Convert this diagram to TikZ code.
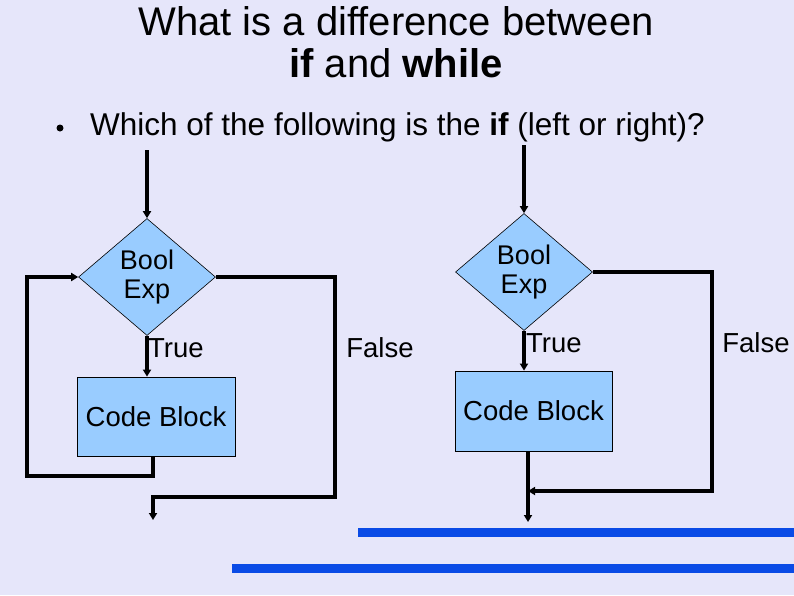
\documentclass[tikz,border=0pt]{standalone}
\usepackage{fontspec}
\setmainfont{Liberation Sans}
\usetikzlibrary{shapes.geometric,arrows.meta}
\definecolor{bg}{HTML}{E6E6FA}
\definecolor{boxfill}{HTML}{99CCFF}
\definecolor{barblue}{HTML}{0A4BE6}
\begin{document}
\begin{tikzpicture}[x=1pt,y=-1pt,
  flow/.style={line width=3.2pt,-{Triangle[length=7pt,width=8pt]}},
  decision/.style={diamond,draw=black,line width=0.6pt,fill=boxfill,minimum width=137pt,minimum height=117pt,inner sep=0pt,align=center,font=\fontsize{27}{29}\selectfont},
  block/.style={rectangle,draw=black,line width=0.8pt,fill=boxfill,inner sep=0pt,font=\fontsize{27.5}{30}\selectfont},
  lbl/.style={font=\fontsize{27.5}{30}\selectfont,inner sep=0pt}]
\fill[bg] (0,0) rectangle (794,595);
\useasboundingbox (0,0) rectangle (794,595);
\node[font=\fontsize{40}{42}\selectfont,align=center] (title) at (396,42) {What is a difference between\\\textbf{if} and \textbf{while}};
\node[circle,fill=black,inner sep=0pt,minimum size=7pt] (bul) at (60,128) {};
\node[anchor=west,font=\fontsize{31.5}{34}\selectfont,inner sep=0pt] (q) at (90,127) {Which of the following is the \textbf{if} (left or right)?};
% left
\node[decision] (d1) at (147,277) {Bool\\Exp};
\node[block,minimum width=158pt,minimum height=79pt] (b1) at (156,416.5) {Code Block};
\coordinate (s1) at (147,150);
\draw[flow] (s1) -- (d1.north);
\draw[flow] (d1.south) -- (d1.south |- b1.north);
\node[lbl,anchor=west] (t1) at (148,348) {True};
\coordinate (l1) at (153,476);
\coordinate (l2) at (27,476);
\coordinate (l3) at (27,277);
\draw[flow] (b1.south -| l1) -- (l1) -- (l2) -- (l3) -- (d1.west);
\coordinate (f1) at (335,277);
\coordinate (f2) at (335,497);
\coordinate (f3) at (153,497);
\coordinate (e1) at (153,520);
\draw[flow] (d1.east) -- (f1) -- (f2) -- (f3) -- (e1);
\node[lbl] (fl1) at (380,348) {False};
% right
\node[decision] (d2) at (524,272) {Bool\\Exp};
\node[block,minimum width=157pt,minimum height=80pt] (b2) at (533.5,411) {Code Block};
\coordinate (s2) at (524,145);
\draw[flow] (s2) -- (d2.north);
\draw[flow] (d2.south) -- (d2.south |- b2.north);
\node[lbl,anchor=west] (t2) at (526,343) {True};
\coordinate (e2) at (528,522);
\draw[flow] (b2.south -| e2) -- (e2);
\coordinate (g1) at (712,272);
\coordinate (g2) at (712,491);
\coordinate (g3) at (528,491);
\draw[flow] (d2.east) -- (g1) -- (g2) -- (g3);
\node[lbl] (fl2) at (756,343) {False};
% bars
\fill[barblue] (358,528) rectangle (794,537);
\fill[barblue] (232,564) rectangle (794,573);
\end{tikzpicture}
\end{document}
